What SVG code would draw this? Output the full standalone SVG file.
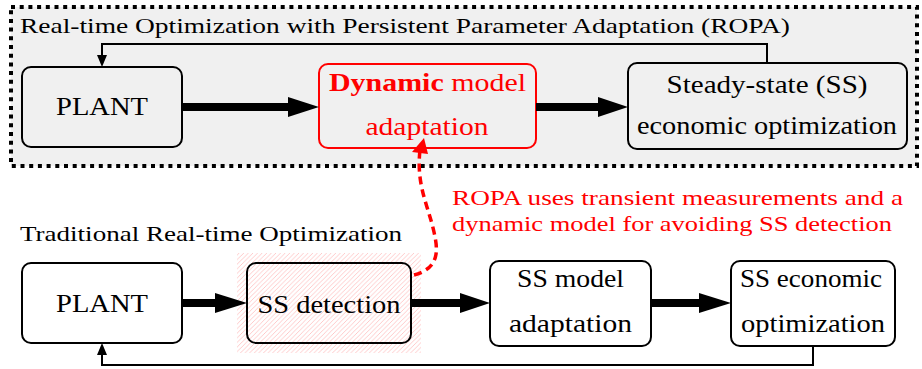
<svg xmlns="http://www.w3.org/2000/svg" width="922" height="369" viewBox="0 0 922 369">
<style>
  text { font-family: "Liberation Serif", "DejaVu Serif", serif; fill: #000; }
  .box { fill: none; stroke: #000; stroke-width: 2; }
  .boxg { fill: #f0f0f0; stroke: #000; stroke-width: 2; }
  .lbl { font-size: 26px; text-anchor: middle; }
  .ttl { font-size: 21px; }
  .red { fill: #ff0000; }
  .thick { stroke: #000; stroke-width: 8; fill: none; }
  .thin { stroke: #000; stroke-width: 2; fill: none; }
</style>
<defs>
  <pattern id="hatch" patternUnits="userSpaceOnUse" width="4.6" height="4.6">
    <path d="M-1,1 l2,-2 M0,4.6 l4.6,-4.6 M3.6,5.6 l2,-2" stroke="#ffb4b4" stroke-width="0.7"/>
  </pattern>
</defs>

<g id="ropa-frame">
  <rect x="11" y="7" width="906" height="159" fill="#f0f0f0" stroke="#000" stroke-width="4" stroke-dasharray="4 4.7"/>
  <text class="ttl" x="20" y="33" textLength="770" lengthAdjust="spacingAndGlyphs">Real-time Optimization with Persistent Parameter Adaptation (ROPA)</text>
</g>

<g id="trad-title">
  <text class="ttl" x="20" y="241" textLength="382" lengthAdjust="spacingAndGlyphs">Traditional Real-time Optimization</text>
</g>

<g id="ropa-note">
  <text class="ttl red" x="452" y="205" textLength="451" lengthAdjust="spacingAndGlyphs">ROPA uses transient measurements and a</text>
  <text class="ttl red" x="452" y="231" textLength="440" lengthAdjust="spacingAndGlyphs">dynamic model for avoiding SS detection</text>
</g>

<g id="plant-top">
  <rect class="boxg" x="22" y="67" width="160" height="80" rx="9"/>
  <text class="lbl" x="102" y="115" textLength="92" lengthAdjust="spacingAndGlyphs">PLANT</text>
</g>

<g id="dynamic-adaptation">
  <rect x="319" y="64" width="217" height="84" rx="9" fill="#f0f0f0" stroke="#ff0000" stroke-width="2"/>
  <text class="lbl red" x="427.5" y="91" textLength="197" lengthAdjust="spacingAndGlyphs"><tspan font-weight="bold" class="red">Dynamic</tspan> model</text>
  <text class="lbl red" x="427" y="135" textLength="123" lengthAdjust="spacingAndGlyphs">adaptation</text>
</g>

<g id="ss-econ-top">
  <rect class="boxg" x="628" y="63" width="279" height="86" rx="9"/>
  <text class="lbl" x="767" y="93" textLength="201" lengthAdjust="spacingAndGlyphs">Steady-state (SS)</text>
  <text class="lbl" x="767" y="134" textLength="260" lengthAdjust="spacingAndGlyphs">economic optimization</text>
</g>

<g id="plant-bottom">
  <rect class="box" x="22" y="263" width="160" height="80" rx="9" fill="#fff"/>
  <text class="lbl" x="102" y="312" textLength="92" lengthAdjust="spacingAndGlyphs">PLANT</text>
</g>

<g id="ss-detection">
  <rect x="237" y="253" width="184" height="100" fill="url(#hatch)"/>
  <rect class="box" x="247" y="263" width="164" height="80" rx="9"/>
  <text class="lbl" x="329" y="313" textLength="143" lengthAdjust="spacingAndGlyphs">SS detection</text>
</g>

<g id="ss-model">
  <rect class="box" x="490" y="261" width="161" height="85" rx="9"/>
  <text class="lbl" x="570.5" y="287" textLength="107" lengthAdjust="spacingAndGlyphs">SS model</text>
  <text class="lbl" x="570.5" y="332" textLength="123" lengthAdjust="spacingAndGlyphs">adaptation</text>
</g>

<g id="ss-econ-bottom">
  <rect class="box" x="731" y="261" width="164" height="85" rx="9"/>
  <text class="lbl" x="811" y="287" textLength="142" lengthAdjust="spacingAndGlyphs">SS economic</text>
  <text class="lbl" x="813" y="332" textLength="144" lengthAdjust="spacingAndGlyphs">optimization</text>
</g>

<g id="connectors">
  <line class="thick" x1="182" y1="107" x2="292" y2="107"/>
  <polygon points="288,97 319,107 288,117"/>
  <line class="thick" x1="536" y1="107" x2="602" y2="107"/>
  <polygon points="598,97 628,107 598,117"/>
  <polyline class="thin" points="767,63 767,44 102,44 102,57"/>
  <polygon points="97,55 102,67 107,55"/>
  <line class="thick" x1="182" y1="303" x2="219" y2="303"/>
  <polygon points="215,293 247,303 215,313"/>
  <line class="thick" x1="411" y1="303" x2="464" y2="303"/>
  <polygon points="460,293 490,303 460,313"/>
  <line class="thick" x1="651" y1="303" x2="703" y2="303"/>
  <polygon points="699,293 731,303 699,313"/>
  <polyline class="thin" points="813,346 813,365 102,365 102,353"/>
  <polygon points="97,355 102,343 107,355"/>
  <path d="M 414 275 C 440 268, 438 250, 434 232 C 428 205, 416 185, 420 150" fill="none" stroke="#ff0000" stroke-width="3.5" stroke-dasharray="8 5"/>
  <polygon points="424,138 412,152 428,154" fill="#ff0000"/>
</g>
</svg>
